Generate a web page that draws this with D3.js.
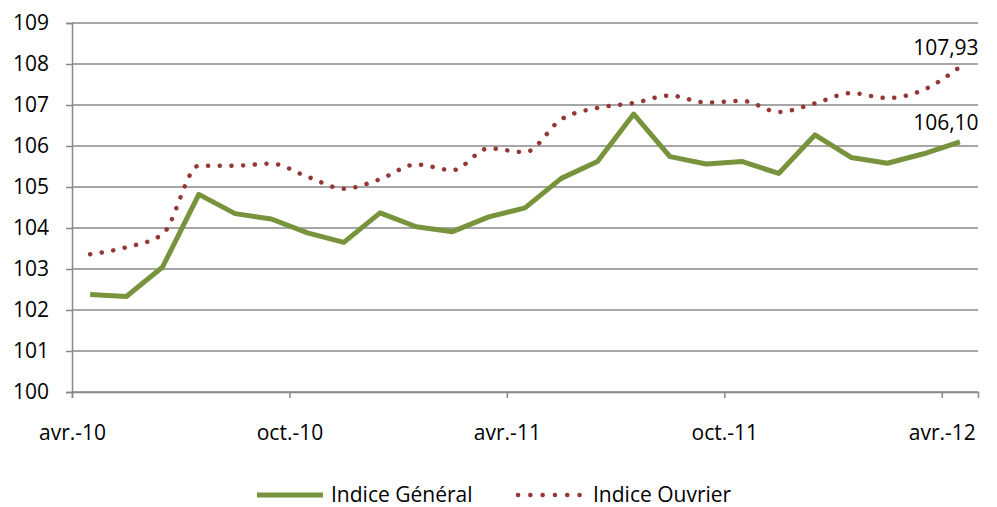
<!DOCTYPE html>
<html>
<head>
<meta charset="utf-8">
<script src="https://cdn.jsdelivr.net/npm/d3@7"></script>
<style>
  body { margin: 0; background: #fff; }
  text { font-family: "Open Sans", sans-serif; fill: #000; }
</style>
</head>
<body>
<div id="chart"></div>
<script>
// Data
var months = d3.range(25).map(function(i) { return new Date(2010, 3 + i, 1); });
var indiceGeneral = [102.38, 102.33, 103.05, 104.82, 104.35, 104.22, 103.88, 103.65, 104.37,
  104.03, 103.91, 104.27, 104.49, 105.21, 105.62, 106.78, 105.74, 105.56, 105.62, 105.33,
  106.27, 105.72, 105.58, 105.81, 106.10];
var indiceOuvrier = [103.36, 103.53, 103.85, 105.52, 105.52, 105.57, 105.25, 104.96, 105.19,
  105.55, 105.41, 105.94, 105.85, 106.65, 106.93, 107.05, 107.23, 107.06, 107.10, 106.83,
  107.04, 107.29, 107.17, 107.37, 107.93];
var yTicks = d3.range(100, 110);
var xTickMonths = [0, 6, 12, 18, 24];
var xTickLabels = ["avr.-10", "oct.-10", "avr.-11", "oct.-11", "avr.-12"];
var seriesNames = ["Indice Général", "Indice Ouvrier"];

// Set up chart
var svgWidth = 997;
var svgHeight = 507;
var margin = {top: 23, right: 19, bottom: 115, left: 72};
var width = svgWidth - margin.left - margin.right;
var height = svgHeight - margin.top - margin.bottom;

var svg = d3.select("#chart")
  .append("svg")
  .attr("width", svgWidth)
  .attr("height", svgHeight);

var chartGroup = svg.append("g")
  .attr("transform", "translate(" + margin.left + "," + margin.top + ")");

// ticks at category edges, points at centers
var xScale = d3.scaleLinear().domain([0, 25]).range([0, width]);
var yScale = d3.scaleLinear().domain([100, 109]).range([height, 0]);

var gridColor = "#898989";
var fontSize = "21px";

// y axis
var leftAxis = d3.axisLeft(yScale).tickValues(yTicks).tickSize(6).tickPadding(17)
  .tickFormat(d3.format("d"));
var yAxis = chartGroup.append("g").call(leftAxis);
yAxis.select(".domain").attr("stroke", gridColor).attr("stroke-width", 1.5);
yAxis.selectAll(".tick line").attr("stroke", gridColor).attr("stroke-width", 1.5);
yAxis.selectAll(".tick text").style("font-size", fontSize).style("font-family", "Open Sans");

// gridlines
chartGroup.append("g").selectAll("line")
  .data(yTicks)
  .enter()
  .append("line")
  .attr("x1", 0)
  .attr("x2", width)
  .attr("y1", function(d) { return yScale(d); })
  .attr("y2", function(d) { return yScale(d); })
  .attr("stroke", gridColor)
  .attr("stroke-width", 1.5);

// x axis
var bottomAxis = d3.axisBottom(xScale).tickValues(xTickMonths).tickSize(6).tickPadding(27)
  .tickFormat(function(d, i) { return xTickLabels[i]; });
var xAxis = chartGroup.append("g")
  .attr("transform", "translate(0," + height + ")")
  .call(bottomAxis);
xAxis.select(".domain").attr("stroke", gridColor).attr("stroke-width", 1.5);
xAxis.selectAll(".tick line").attr("stroke", gridColor).attr("stroke-width", 1.5);
xAxis.selectAll(".tick text").style("font-size", fontSize).style("font-family", "Open Sans");

// lines
var lineStraight = d3.line()
  .x(function(d, i) { return xScale(i + 0.5); })
  .y(function(d) { return yScale(d); });
var lineSmooth = d3.line()
  .curve(d3.curveMonotoneX)
  .x(function(d, i) { return xScale(i + 0.5); })
  .y(function(d) { return yScale(d); });

var greenColor = "#77933C";
var redColor = "#953735";

chartGroup.append("path")
  .datum(indiceOuvrier)
  .attr("d", lineSmooth)
  .attr("fill", "none")
  .attr("stroke", redColor)
  .attr("stroke-width", 4.5)
  .attr("stroke-linecap", "round")
  .attr("stroke-dasharray", "0.1 11.6");

chartGroup.append("path")
  .datum(indiceGeneral)
  .attr("d", lineStraight)
  .attr("fill", "none")
  .attr("stroke", greenColor)
  .attr("stroke-width", 5)
  .attr("stroke-linejoin", "round");

// data labels on last points
var last = indiceGeneral.length - 1;
[indiceOuvrier, indiceGeneral].forEach(function(s) {
  chartGroup.append("text")
    .attr("x", xScale(last + 0.5) - 14)
    .attr("y", yScale(s[last]) - 12)
    .attr("text-anchor", "middle")
    .style("font-size", fontSize)
    .text(d3.format(".2f")(s[last]).replace(".", ","));
});

// legend
var legend = svg.append("g");
legend.append("line")
  .attr("x1", 257).attr("x2", 323).attr("y1", 495).attr("y2", 495)
  .attr("stroke", greenColor).attr("stroke-width", 5);
legend.append("text")
  .attr("x", 331).attr("y", 502)
  .style("font-size", fontSize)
  .text(seriesNames[0]);
legend.append("line")
  .attr("x1", 518).attr("x2", 580).attr("y1", 495).attr("y2", 495)
  .attr("stroke", redColor).attr("stroke-width", 4.5)
  .attr("stroke-linecap", "round")
  .attr("stroke-dasharray", "0.1 12.2");
legend.append("text")
  .attr("x", 593).attr("y", 502)
  .style("font-size", fontSize)
  .text(seriesNames[1]);
</script>
</body>
</html>
